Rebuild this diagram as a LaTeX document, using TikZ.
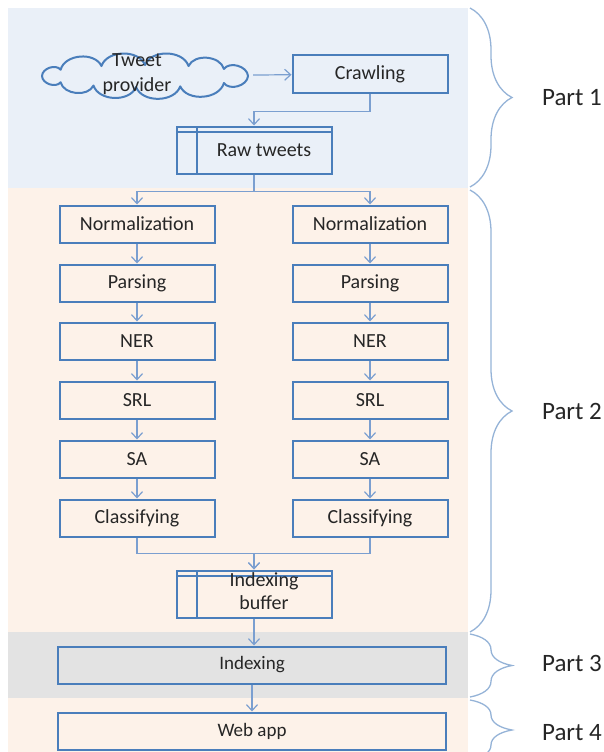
\documentclass[tikz,border=0pt]{standalone}
\usepackage{fontspec}
\setmainfont{Carlito}
\usetikzlibrary{arrows.meta,decorations.pathreplacing}

\definecolor{boxblue}{RGB}{74,126,187}
\definecolor{linkblue}{RGB}{123,159,208}
\definecolor{bracecol}{RGB}{149,179,215}
\definecolor{bgblue}{RGB}{234,240,248}
\definecolor{bgpeach}{RGB}{253,242,233}
\definecolor{bggray}{RGB}{227,227,227}
\definecolor{txt}{RGB}{38,38,38}

\tikzset{
	stage/.style = {draw=boxblue, line width=2pt, minimum width=155pt, minimum height=37pt, inner sep=0pt, text=txt, font=\fontsize{20}{24}\selectfont},
	widestage/.style = {stage, minimum width=388pt, font=\fontsize{19}{23}\selectfont},
	store/.style = {stage, minimum height=47pt, align=center, font=\fontsize{20}{24}\selectfont,
		path picture={
			\draw[boxblue, line width=2pt] ([yshift=-5.5pt]path picture bounding box.north west) -- ([yshift=-5.5pt]path picture bounding box.north east);
			\draw[boxblue, line width=2pt] ([xshift=20pt]path picture bounding box.north west) -- ([xshift=20pt]path picture bounding box.south west);
		}},
	source/.style = {minimum width=216pt, minimum height=44pt, inner sep=0pt},
	puffs/.style = {draw=boxblue, line width=2pt, line join=round},
	link/.style = {draw=linkblue, line width=1.2pt, -{Straight Barb[length=6pt, width=11pt]}},
	partbrace/.style = {draw=bracecol, line width=1.3pt, decorate, decoration={brace, amplitude=42pt}},
	partlabel/.style = {text=txt, font=\fontsize{25}{30}\selectfont}
}

\begin{document}
\begin{tikzpicture}[x=1pt, y=-1pt]
		\useasboundingbox (0,0) rectangle (604,752);
		\fill[bgblue] (8,8) rectangle (468,188);
		\fill[bgpeach] (8,188) rectangle (468,632);
		\fill[bggray] (8,632) rectangle (468,698);
		\fill[bgpeach] (8,698) rectangle (468,752);

		\node[source] (provider) at (145,76) {};
		\draw[puffs] ([shift={(0:103 and 11)}]provider.center)
			foreach \t in {40,70,95,120,145,180,215,245,270,295,320,360} { to[bend left=70] ([shift={(\t:103 and 11)}]provider.center) };
		\node[text=txt, font=\fontsize{20}{25}\selectfont, align=center] (providertext) at (137,74) {Tweet\\provider};
		\node[stage] (crawl) at (370,74) {Crawling};
		\node[store] (raw) at (254,150) {\hspace*{20pt}Raw tweets};

		\node[stage] (normA) at (137,224) {Normalization};
		\node[stage] (parseA) at (137,283) {Parsing};
		\node[stage] (nerA) at (137,341) {NER};
		\node[stage] (srlA) at (137,400) {SRL};
		\node[stage] (saA) at (137,459) {SA};
		\node[stage] (classA) at (137,518) {Classifying};

		\node[stage] (normB) at (370,224) {Normalization};
		\node[stage] (parseB) at (370,283) {Parsing};
		\node[stage] (nerB) at (370,341) {NER};
		\node[stage] (srlB) at (370,400) {SRL};
		\node[stage] (saB) at (370,459) {SA};
		\node[stage] (classB) at (370,518) {Classifying};

		\node[store] (buffer) at (254,594) {\hspace*{20pt}Indexing\\[-1pt]\hspace*{20pt}buffer\rule[-6pt]{0pt}{6pt}};
		\node[widestage] (index) at (252,665) {Indexing};
		\node[widestage] (webapp) at (252,731) {Web app};

		\draw[link] (provider) -- (crawl);
		\draw[link] (crawl.south) -- ++(0,18) -| (raw.north);
		\draw[link] (raw.south) -- ++(0,17) -| (normA.north);
		\draw[link] (raw.south) -- ++(0,17) -| (normB.north);
		\draw[link] (normA) -- (parseA);
		\draw[link] (parseA) -- (nerA);
		\draw[link] (nerA) -- (srlA);
		\draw[link] (srlA) -- (saA);
		\draw[link] (saA) -- (classA);
		\draw[link] (normB) -- (parseB);
		\draw[link] (parseB) -- (nerB);
		\draw[link] (nerB) -- (srlB);
		\draw[link] (srlB) -- (saB);
		\draw[link] (saB) -- (classB);
		\draw[link] (classA.south) -- ++(0,16) -| (buffer.north);
		\draw[link] (classB.south) -- ++(0,16) -| (buffer.north);
		\draw[link] (buffer) -- (buffer |- index.north);
		\draw[link] (index) -- (index |- webapp.north);

		\draw[partbrace] (470,8) -- (470,187);
		\draw[partbrace] (470,190) -- (470,632);
		\draw[partbrace] (470,634) -- (470,697);
		\draw[partbrace] (470,700) -- (470,760);
		\node[partlabel] (part1) at (572,98) {Part 1};
		\node[partlabel] (part2) at (572,411) {Part 2};
		\node[partlabel] (part3) at (572,663) {Part 3};
		\node[partlabel] (part4) at (572,733) {Part 4};
	\end{tikzpicture}
\end{document}
